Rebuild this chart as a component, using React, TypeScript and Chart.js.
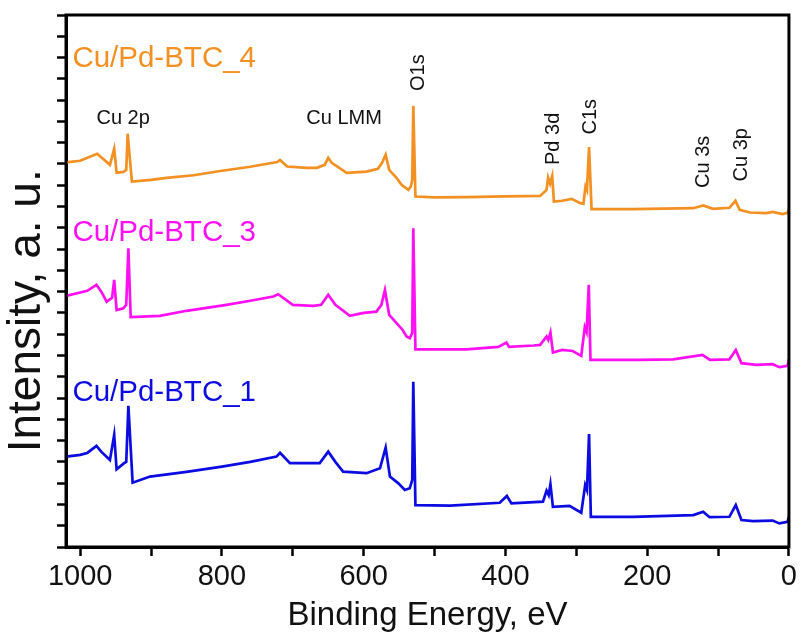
import React, { useEffect, useRef } from 'react';
import { Chart, registerables } from 'chart.js';

Chart.register(...registerables);

// Binding energy (eV) and intensity (a.u., offset) for each sample
const energy4 = [1020, 1000, 976, 958, 952, 948.6, 939, 935, 933, 927, 900, 878, 840, 800, 760, 722, 718, 708, 680, 666, 655, 650, 645, 624, 596, 580, 574, 569, 564, 553.7, 546.6, 537, 533.5, 531.5, 530, 527, 500, 455, 400, 351, 342, 339.8, 337, 334, 331.6, 320, 306.6, 295, 290, 287, 285, 282, 278.5, 220, 135, 121, 107, 84, 75.5, 69.5, 55, 32, 23, 9, 2, 0];
const intensity4 = [180.7, 181.5, 184.8, 179.6, 187.1, 175.9, 176.3, 177.2, 194.2, 171.7, 172.5, 173.5, 174.7, 176.8, 178.7, 180.9, 181.9, 178.8, 178.2, 178.2, 179.6, 182.9, 180.5, 175.8, 176.4, 177.7, 180.5, 184.3, 177.2, 173.5, 170.2, 167.8, 169.4, 172.5, 207.3, 164.7, 164.3, 164.4, 164.8, 165.0, 167.8, 173.6, 170.7, 174.4, 162.3, 162.7, 163.6, 161.7, 161.3, 169.4, 167.8, 187.9, 158.8, 158.8, 159.2, 160.5, 158.9, 159.4, 162.7, 158.4, 157.2, 156.9, 157.5, 156.4, 157.0, 158.9];

const energy3 = [1020, 1000, 990, 977, 970, 962.6, 955, 952, 948.6, 939, 935, 932, 928.7, 887.5, 850, 793.6, 760, 727.6, 720.6, 700, 671, 660, 650, 640, 619.5, 600, 582, 575, 570, 564, 553.6, 545, 539.5, 535, 531.5, 530, 527, 500, 455, 410, 398.6, 395, 360, 351, 342, 339.5, 336.5, 333, 320, 305, 293, 288, 285.5, 282.4, 280, 210.4, 163.5, 122, 111.5, 84, 75, 67, 46, 23, 13.5, 2, 0];
const intensity3 = [118.0, 119.6, 120.4, 123.2, 119.9, 115.3, 117.1, 125.5, 111.4, 112.2, 113.8, 140.4, 108.0, 108.6, 111.0, 113.8, 115.7, 117.7, 118.8, 113.8, 113.3, 113.8, 118.5, 113.8, 108.6, 110.0, 110.6, 113.8, 120.8, 109.1, 105.2, 102.0, 98.9, 98.1, 100.6, 149.8, 92.9, 92.9, 92.9, 94.0, 96.1, 94.0, 94.7, 95.0, 98.9, 97.3, 100.8, 91.4, 92.6, 92.1, 89.8, 103.3, 101.1, 123.2, 87.9, 87.9, 88.2, 90.3, 87.9, 88.2, 92.6, 86.4, 85.6, 85.9, 84.5, 85.1, 88.2];

const energy1 = [1020, 1000, 990, 977, 970, 958, 952, 948.6, 938, 935, 932, 926, 901.5, 850, 800, 760, 723, 718, 704, 662, 650, 640, 629, 596, 577, 569, 563, 551, 542, 535, 531.5, 530, 527, 478, 408, 398, 391.5, 347, 342, 339, 336.5, 333, 309.6, 293, 287.5, 285, 282, 279.5, 220, 135, 121, 112, 84, 75, 67, 50.6, 23, 13.5, 2, 0];
const intensity1 = [42.5, 43.3, 44.2, 47.5, 44.7, 40.9, 52.7, 36.5, 39.4, 40.0, 66.3, 30.2, 33.1, 35.3, 37.8, 40.0, 42.5, 44.3, 39.4, 39.4, 44.8, 40.0, 35.4, 34.7, 37.0, 46.7, 33.1, 29.9, 26.8, 27.6, 31.5, 77.7, 19.7, 19.4, 20.8, 24.0, 20.5, 21.3, 26.5, 24.4, 29.5, 18.9, 19.3, 16.1, 29.1, 26.8, 53.1, 14.2, 14.2, 15.0, 16.6, 14.0, 14.2, 19.7, 12.7, 12.2, 12.4, 11.1, 11.8, 14.2];

const seriesNames = ['Cu/Pd-BTC_4', 'Cu/Pd-BTC_3', 'Cu/Pd-BTC_1'];
const seriesColors = ['#F39022', '#FF10F2', '#0C0CE2'];

const xTickLabels = [1000, 800, 600, 400, 200, 0];

// text annotations placed in data coordinates [energy, intensity]
const sampleLabelPos = [[1011, 229.4], [1011, 147.6], [1011, 72.5]];
const peakLabels = ['Cu 2p', 'Cu LMM'];
const peakLabelPos = [[939.4, 201.2], [627.6, 201.2]];
const rotatedLabels = ['O1s', 'Pd 3d', 'C1s', 'Cu 3s', 'Cu 3p'];
const rotatedLabelPos = [[523.3, 222.9], [331.5, 191.8], [279.3, 202.2], [119.9, 181.0], [66.3, 184.3]];

const FONT = '"Liberation Sans", Arial, Helvetica, sans-serif';

const toPoints = (xs: number[], ys: number[]) => xs.map((x, i) => ({ x, y: ys[i] }));

const decorPlugin = {
  id: 'decor',
  afterDatasetsDraw(chart: any) {
    const { ctx, chartArea: a, scales } = chart;
    const xs = scales.x;
    const ys = scales.y;
    ctx.save();
    ctx.strokeStyle = '#000';
    ctx.lineWidth = 3;
    ctx.strokeRect(a.left, a.top, a.right - a.left, a.bottom - a.top);

    ctx.textBaseline = 'middle';
    ctx.font = `29.5px ${FONT}`;
    ctx.textAlign = 'left';
    sampleLabelPos.forEach((p, i) => {
      ctx.fillStyle = seriesColors[i];
      ctx.fillText(seriesNames[i], xs.getPixelForValue(p[0]), ys.getPixelForValue(p[1]));
    });

    ctx.fillStyle = '#111';
    ctx.font = `20px ${FONT}`;
    ctx.textAlign = 'center';
    peakLabels.forEach((t, i) => {
      ctx.fillText(t, xs.getPixelForValue(peakLabelPos[i][0]), ys.getPixelForValue(peakLabelPos[i][1]));
    });
    rotatedLabels.forEach((t, i) => {
      ctx.save();
      ctx.translate(xs.getPixelForValue(rotatedLabelPos[i][0]), ys.getPixelForValue(rotatedLabelPos[i][1]));
      ctx.rotate(-Math.PI / 2);
      ctx.fillText(t, 0, 0);
      ctx.restore();
    });

    // y-axis title, placed a little below the middle like the reference
    ctx.font = `46px ${FONT}`;
    ctx.save();
    ctx.translate(27, ys.getPixelForValue(111));
    ctx.rotate(-Math.PI / 2);
    ctx.fillText('Intensity, a. u.', 0, 0);
    ctx.restore();
    ctx.restore();
  },
};

export default function App() {
  const ref = useRef<HTMLCanvasElement | null>(null);

  useEffect(() => {
    document.body.style.margin = '0';
    const canvas = ref.current;
    if (!canvas) return;
    const chart = new Chart(canvas, {
      type: 'line',
      data: {
        datasets: [
          { label: seriesNames[0], data: toPoints(energy4, intensity4), borderColor: seriesColors[0] },
          { label: seriesNames[1], data: toPoints(energy3, intensity3), borderColor: seriesColors[1] },
          { label: seriesNames[2], data: toPoints(energy1, intensity1), borderColor: seriesColors[2] },
        ].map((d) => ({ ...d, borderWidth: 2.7, pointRadius: 0, tension: 0, fill: false })),
      },
      options: {
        animation: false,
        responsive: false,
        maintainAspectRatio: false,
        layout: { padding: { left: 0, right: 12, top: 15, bottom: 0 } },
        plugins: { legend: { display: false }, tooltip: { enabled: false } },
        scales: {
          x: {
            type: 'linear',
            reverse: true,
            min: 0,
            max: 1020,
            afterFit: (s: any) => { s.height = 90; },
            border: { display: true, color: '#000', width: 3 },
            grid: { drawOnChartArea: false, drawTicks: true, tickLength: 9, tickWidth: 2.5, tickColor: '#000' },
            ticks: {
              stepSize: 100,
              autoSkip: false,
              includeBounds: false,
              maxRotation: 0,
              padding: 4,
              color: '#111',
              font: { family: FONT, size: 29 },
              callback: (v: any) => (xTickLabels.includes(Number(v)) ? String(v) : ''),
            },
            title: {
              display: true,
              text: 'Binding Energy, eV',
              color: '#111',
              font: { family: FONT, size: 33 },
              padding: { top: 0, bottom: 1 },
            },
          },
          y: {
            type: 'linear',
            min: 0,
            max: 250,
            afterFit: (s: any) => { s.width = 66; },
            border: { display: true, color: '#000', width: 3 },
            grid: { drawOnChartArea: false, drawTicks: true, tickLength: 9, tickWidth: 2.5, tickColor: '#000' },
            ticks: { stepSize: 10, display: false },
            title: { display: false },
          },
        },
      },
      plugins: [decorPlugin],
    });
    return () => chart.destroy();
  }, []);

  return <canvas ref={ref} width={801} height={637} style={{ display: 'block' }} />;
}
